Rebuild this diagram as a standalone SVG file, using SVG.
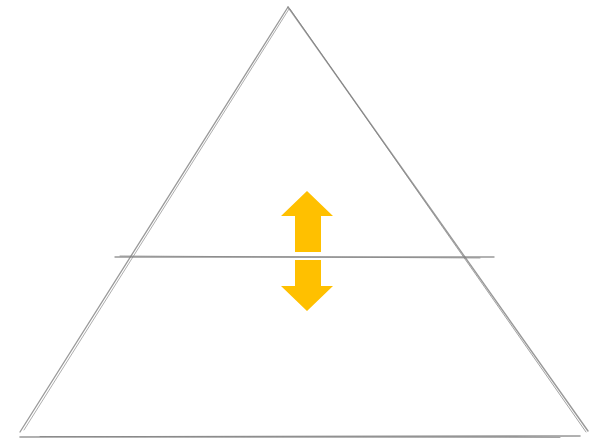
<svg xmlns="http://www.w3.org/2000/svg" width="589" height="444" viewBox="0 0 589 444">
<style>
.s{fill:none;stroke:#7f7f7f;stroke-linecap:round;stroke-opacity:0.8}
.a{fill:#FFC000}
</style>
<rect width="589" height="444" fill="#ffffff"/>
<g id="connectors">
<path class="s" stroke-width="1.3" d="M288 7 L20 432"/>
<path class="s" stroke-width="0.8" d="M289 9 L24 430"/>
<path class="s" stroke-width="1.4" d="M288 7 L588 431"/>
<path class="s" stroke-width="0.9" d="M290 9 L586 432"/>
<path class="s" stroke-width="1.6" d="M20 437 L580 436"/>
<path class="s" stroke-width="0.9" d="M40 436.5 L560 437.5"/>
<path class="s" stroke-width="1.4" d="M115 257 L494 257"/>
<path class="s" stroke-width="0.9" d="M120 256 L480 258"/>
</g>
<g id="arrow-up">
<polygon class="a" points="307,191 333,216 321,216 321,252 295,252 295,216 281,216"/>
</g>
<g id="arrow-down">
<polygon class="a" points="295,260 321,260 321,286 333,286 307,311 281,286 295,286"/>
</g>
</svg>
